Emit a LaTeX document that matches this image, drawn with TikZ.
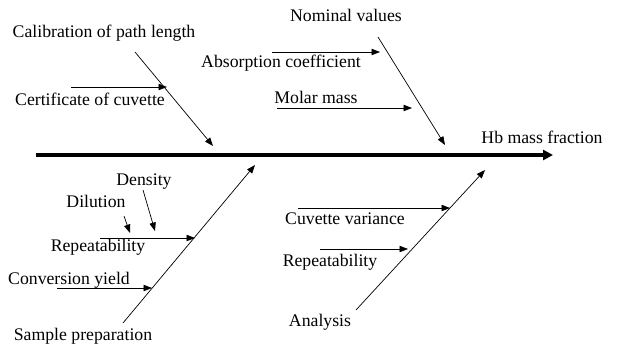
\documentclass[tikz,border=0pt]{standalone}
\usepackage{fontspec}
\setmainfont{Liberation Serif}
\usetikzlibrary{arrows.meta}

\begin{document}
\begin{tikzpicture}[
  x=0.025cm, y=-0.025cm, font=\fontsize{12.6}{15}\selectfont,
  lbl/.style={inner sep=0pt},
  spine/.style={line width=2.2pt,-{Triangle[length=7pt,width=7pt]}},
  bone/.style={line width=0.5pt,-{Triangle[length=6pt,width=4.5pt]}},
]
\useasboundingbox (0,0) rectangle (619,349);

% ---- spine ----
\coordinate (tail) at (36,155);
\coordinate (head) at (553,155);
\draw[spine] (tail) -- (head);
\node[lbl] (effect) at (542,137) {Hb mass fraction};

% ---- top bones ----
\node[lbl] (calib) at (104,33) {Calibration of path length};
\coordinate (calibS) at (135,52);
\coordinate (calibE) at (213,146);
\draw[bone] (calibS) -- (calibE);

\node[lbl] (nominal) at (346,15) {Nominal values};
\coordinate (nomS) at (378,37);
\coordinate (nomE) at (445,145);
\draw[bone] (nomS) -- (nomE);

% ---- bottom bones ----
\node[lbl] (sample) at (83,336) {Sample preparation};
\coordinate (sampS) at (123,323);
\coordinate (sampE) at (255,165);
\draw[bone] (sampS) -- (sampE);

\node[lbl] (analysis) at (320,322) {Analysis};
\coordinate (anaS) at (356,310);
\coordinate (anaE) at (485,170);
\draw[bone] (anaS) -- (anaE);

% ---- twigs ----
\foreach \n/\txt/\lx/\ly/\ax/\bx/\y in {
  cert/Certificate of cuvette/90/99/71/167/87,
  absorp/Absorption coefficient/281/63/272/380/52,
  molar/Molar mass/316/97/277/412/108,
  repA/Repeatability/98/247/100/195/238,
  conv/Conversion yield/69/280/57/152/288,
  cuv/Cuvette variance/345/219/298/450/208,
  repB/Repeatability/330/262/320/408/249}{
  \node[lbl] (\n) at (\lx,\ly) {\txt};
  \coordinate (\n S) at (\ax,\y);
  \coordinate (\n E) at (\bx,\y);
  \draw[bone] (\n S) -- (\n E);
}

% ---- small causes on repeatability ----
\node[lbl] (dilution) at (96,201) {Dilution};
\coordinate (dilS) at (124,216);
\coordinate (dilE) at (130,233);
\draw[bone] (dilS) -- (dilE);

\node[lbl] (density) at (144,182) {Density};
\coordinate (denS) at (143,190);
\coordinate (denE) at (155,231);
\draw[bone] (denS) -- (denE);
\end{tikzpicture}
\end{document}
